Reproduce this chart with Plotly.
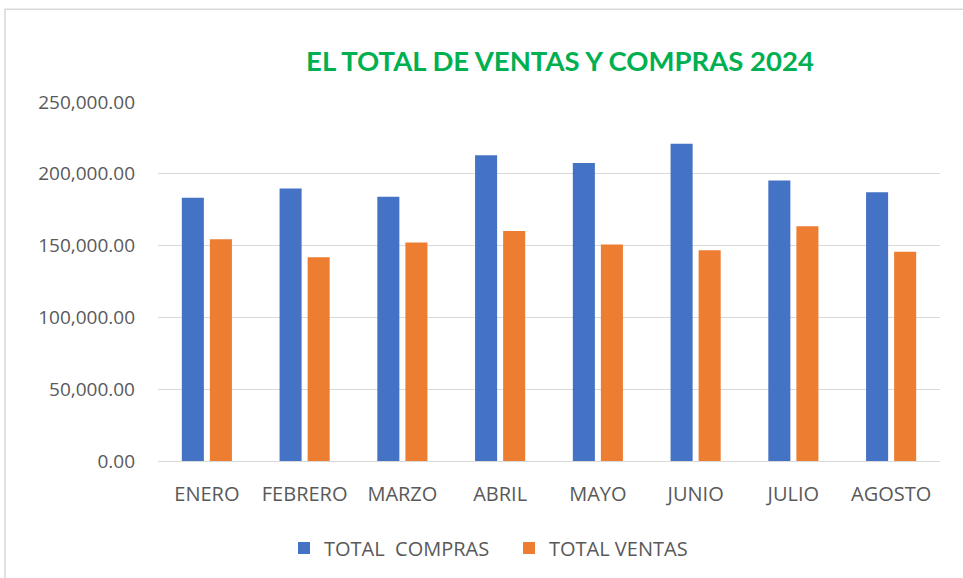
import plotly.graph_objects as go

meses = ["ENERO", "FEBRERO", "MARZO", "ABRIL", "MAYO", "JUNIO", "JULIO", "AGOSTO"]
total_compras = [183300, 189800, 184000, 212900, 207600, 221000, 195300, 187200]
total_ventas = [154400, 141900, 152100, 160200, 150700, 146700, 163400, 145800]
y_ticks = [0, 50000, 100000, 150000, 200000, 250000]
y_tick_labels = ["0.00", "50,000.00", "100,000.00", "150,000.00", "200,000.00", "250,000.00"]

W, H = 963, 578
L, R, T, B = 158, 23, 102, 116
pw, ph = W - L - R, H - T - B

def px(x):
    return (x - L) / pw

def py(y):
    return (H - B - y) / ph

grey = "#595959"
grid = "#D9D9D9"

fig = go.Figure()
fig.add_trace(go.Bar(x=meses, y=total_compras, name="TOTAL\u00a0 COMPRAS",
                     marker=dict(color="#4472C4", line=dict(width=0))))
fig.add_trace(go.Bar(x=meses, y=total_ventas, name="TOTAL VENTAS",
                     marker=dict(color="#ED7D31", line=dict(width=0))))

fig.update_layout(
    width=W, height=H,
    margin=dict(l=L, r=R, t=T, b=B, pad=0),
    paper_bgcolor="white", plot_bgcolor="white",
    barmode="group", bargap=0.426, bargroupgap=0.214,
    title=dict(text="<b>EL TOTAL DE VENTAS Y COMPRAS 2024</b>",
               font=dict(family="Lato, sans-serif", size=27.5, color="#00B050"),
               x=560 / W, xref="container", xanchor="center",
               y=1 - 61 / H, yref="container", yanchor="middle"),
    showlegend=True,
    legend=dict(orientation="h", x=px(284), xanchor="left", y=py(548), yanchor="middle",
                font=dict(family="Open Sans, sans-serif", size=20, color=grey),
                itemwidth=30, tracegroupgap=0, entrywidthmode="pixels", entrywidth=180),
    xaxis=dict(showgrid=False, showline=True, linecolor=grid, linewidth=1,
               tickfont=dict(family="Open Sans, sans-serif", size=20, color=grey),
               ticks="", ticklabelstandoff=15),
    yaxis=dict(range=[0, 250000], tickvals=y_ticks, ticktext=y_tick_labels,
               showgrid=True, gridcolor=grid, gridwidth=1,
               zeroline=True, zerolinecolor=grid, zerolinewidth=1,
               showline=False,
               tickfont=dict(family="Open Sans, sans-serif", size=19, color=grey),
               ticks="", ticklabelstandoff=22),
    shapes=[dict(type="rect", xref="paper", yref="paper",
                 x0=px(5), x1=px(990), y0=py(600), y1=py(9),
                 line=dict(color=grid, width=1.5), fillcolor="rgba(0,0,0,0)")],
)

fig.write_html("out.html", config={"displayModeBar": False},
               post_script="document.body.style.margin='0';")
